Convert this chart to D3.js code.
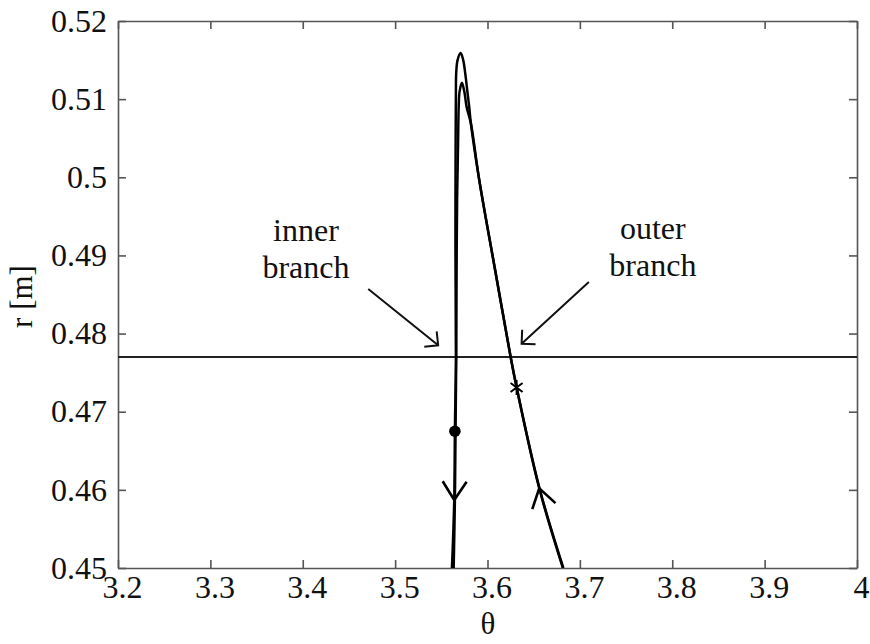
<!DOCTYPE html>
<html>
  <head>
    <meta charset="utf-8">
    <title></title>
  </head>
  <style>
    body{
      margin: 0;
      background-color: #fff
    }
    svg text{
      font-family: "Liberation Serif", "DejaVu Serif", serif;
      fill: #111
    }
    .axis path, .axis line{
      stroke: #555;
      stroke-width: 1.6
    }
  </style>
  <script src="https://d3js.org/d3.v7.min.js"></script>
  <body>
    <script>
    // tick values
    const thetaTicks = [3.2, 3.3, 3.4, 3.5, 3.6, 3.7, 3.8, 3.9, 4]
    const rTicks = [0.45, 0.46, 0.47, 0.48, 0.49, 0.5, 0.51, 0.52]

    // trajectory with the higher turning point [theta, r]
    const trajA = [
      [3.6816, 0.4500], [3.6560, 0.4602], [3.6315, 0.4731], [3.6250, 0.4770],
      [3.6083, 0.4881], [3.5910, 0.4997], [3.5820, 0.5069], [3.5802, 0.5090],
      [3.5780, 0.5112], [3.5759, 0.5133], [3.5737, 0.5150], [3.5709, 0.5159],
      [3.5676, 0.5150], [3.5661, 0.5133], [3.5658, 0.5112], [3.5655, 0.5048],
      [3.5653, 0.4907], [3.5658, 0.4770], [3.5647, 0.4675], [3.5640, 0.4587],
      [3.5615, 0.4500]
    ]
    // trajectory with the lower turning point
    const trajB = [
      [3.6821, 0.4500], [3.6563, 0.4602], [3.6316, 0.4731], [3.6251, 0.4770],
      [3.6083, 0.4881], [3.5910, 0.4997], [3.5820, 0.5069], [3.5774, 0.5090],
      [3.5750, 0.5109], [3.5723, 0.5121], [3.5697, 0.5109], [3.5688, 0.5090],
      [3.5682, 0.5048], [3.5671, 0.4971], [3.5665, 0.4869], [3.5662, 0.4770],
      [3.5654, 0.4675], [3.5647, 0.4587], [3.5634, 0.4500]
    ]

    const rLevel = 0.477            // horizontal line
    const dotPoint = [3.5647, 0.4675]
    const starPoint = [3.6315, 0.4731]
    const flowArrows = [[3.5640, 0.4587], [3.6560, 0.4602]]   // chevron tips on trajA

    const labels = [
      {lines: ["inner", "branch"], theta: 3.4035, r: 0.4918},
      {lines: ["outer", "branch"], theta: 3.779, r: 0.4921}
    ]
    const pointers = [
      {from: [3.4709, 0.4857], to: [3.5466, 0.4785]},
      {from: [3.7097, 0.4866], to: [3.6369, 0.4787]}
    ]

    var W = 870, H = 644
    var margin = {left: 118, right: 857, top: 21, bottom: 568}

    var svg = d3.select("body")
                .append("svg")
                .attr("width", W)
                .attr("height", H)

    var x = d3.scaleLinear().domain([3.2, 4]).range([margin.left, margin.right])
    var y = d3.scaleLinear().domain([0.45, 0.52]).range([margin.bottom, margin.top])

    var fmt = function(d){ return String(+d.toFixed(2)) }

    // bottom axis
    var xAxisG = svg.append("g")
       .attr("class", "axis")
       .attr("transform", "translate(0," + margin.bottom + ")")
       .call(d3.axisBottom(x).tickValues(thetaTicks).tickSizeInner(-8).tickSizeOuter(0)
                .tickPadding(7).tickFormat(fmt))
    // top axis (ticks only)
    svg.append("g")
       .attr("class", "axis")
       .attr("transform", "translate(0," + margin.top + ")")
       .call(d3.axisTop(x).tickValues(thetaTicks).tickSizeInner(-8).tickSizeOuter(0).tickFormat(""))
    // left axis
    svg.append("g")
       .attr("class", "axis")
       .attr("transform", "translate(" + margin.left + ",0)")
       .call(d3.axisLeft(y).tickValues(rTicks).tickSizeInner(-8).tickSizeOuter(0)
                .tickPadding(11).tickFormat(fmt))
    // right axis (ticks only)
    svg.append("g")
       .attr("class", "axis")
       .attr("transform", "translate(" + margin.right + ",0)")
       .call(d3.axisRight(y).tickValues(rTicks).tickSizeInner(-8).tickSizeOuter(0).tickFormat(""))

    svg.selectAll(".axis text")
       .attr("font-size", "32px")
       .attr("fill", "#111")
       .style("font-family", '"Liberation Serif", serif')
    xAxisG.selectAll("text").attr("dx", "4")

    // axis titles
    svg.append("text")
       .attr("x", (margin.left + margin.right) / 2 + 0.5)
       .attr("y", 634)
       .attr("text-anchor", "middle")
       .attr("font-size", "31px")
       .text("θ")

    svg.append("text")
       .attr("transform", "translate(32," + ((margin.top + margin.bottom) / 2 + 2) + ") rotate(-90)")
       .attr("text-anchor", "middle")
       .attr("font-size", "31px")
       .text("r [m]")

    // clip for curves
    svg.append("clipPath").attr("id", "plot")
       .append("rect").attr("x", margin.left).attr("y", margin.top)
       .attr("width", margin.right - margin.left).attr("height", margin.bottom - margin.top)

    var plot = svg.append("g").attr("clip-path", "url(#plot)")

    // horizontal level line
    plot.append("line")
        .attr("x1", margin.left).attr("x2", margin.right)
        .attr("y1", y(rLevel)).attr("y2", y(rLevel))
        .attr("stroke", "#222")
        .attr("stroke-width", 2.2)

    var line = d3.line()
                 .x(function(d){ return x(d[0]) })
                 .y(function(d){ return y(d[1]) })
                 .curve(d3.curveCatmullRom.alpha(0.5))

    var pathA = plot.append("path")
        .attr("d", line(trajA))
        .attr("fill", "none")
        .attr("stroke", "#000")
        .attr("stroke-width", 2.5)

    plot.append("path")
        .attr("d", line(trajB))
        .attr("fill", "none")
        .attr("stroke", "#000")
        .attr("stroke-width", 2.5)

    // direction chevrons, oriented along trajA
    var node = pathA.node()
    var total = node.getTotalLength()
    flowArrows.forEach(function(p){
      var px = x(p[0]), py = y(p[1])
      var best = 0, bestD = Infinity
      for (var l = 0; l <= total; l += 0.5) {
        var q = node.getPointAtLength(l)
        var dd = (q.x - px) * (q.x - px) + (q.y - py) * (q.y - py)
        if (dd < bestD) { bestD = dd; best = l }
      }
      var a = node.getPointAtLength(Math.max(0, best - 3))
      var b = node.getPointAtLength(Math.min(total, best + 3))
      var ang = Math.atan2(a.y - b.y, a.x - b.x)    // backward direction
      var len = 22, spread = 33 * Math.PI / 180
      var p1 = [px + len * Math.cos(ang - spread), py + len * Math.sin(ang - spread)]
      var p2 = [px + len * Math.cos(ang + spread), py + len * Math.sin(ang + spread)]
      plot.append("path")
          .attr("d", "M" + p1 + "L" + px + "," + py + "L" + p2)
          .attr("fill", "none")
          .attr("stroke", "#000")
          .attr("stroke-width", 2.6)
    })

    // dot marker
    plot.append("circle")
        .attr("cx", x(dotPoint[0]))
        .attr("cy", y(dotPoint[1]))
        .attr("r", 5.8)
        .attr("fill", "#000")

    // star marker
    var sx = x(starPoint[0]), sy = y(starPoint[1]), s = 7.5
    plot.append("path")
        .attr("d", "M" + sx + "," + (sy - s) + "V" + (sy + s) +
                   "M" + (sx - s * 0.8) + "," + (sy - s * 0.6) + "L" + (sx + s * 0.8) + "," + (sy + s * 0.6) +
                   "M" + (sx - s * 0.8) + "," + (sy + s * 0.6) + "L" + (sx + s * 0.8) + "," + (sy - s * 0.6))
        .attr("stroke", "#000")
        .attr("stroke-width", 2)

    // branch labels
    labels.forEach(function(d){
      var t = svg.append("text")
                 .attr("text-anchor", "middle")
                 .attr("font-size", "32px")
      d.lines.forEach(function(s, i){
        t.append("tspan")
         .attr("x", x(d.theta))
         .attr("y", y(d.r) + i * 37)
         .text(s)
      })
    })

    // pointer arrows
    pointers.forEach(function(d){
      var x0 = x(d.from[0]), y0 = y(d.from[1]), x1 = x(d.to[0]), y1 = y(d.to[1])
      var ang = Math.atan2(y0 - y1, x0 - x1)
      var len = 14, spread = 45 * Math.PI / 180
      svg.append("path")
         .attr("d", "M" + x0 + "," + y0 + "L" + x1 + "," + y1 +
                    "M" + (x1 + len * Math.cos(ang - spread)) + "," + (y1 + len * Math.sin(ang - spread)) +
                    "L" + x1 + "," + y1 +
                    "L" + (x1 + len * Math.cos(ang + spread)) + "," + (y1 + len * Math.sin(ang + spread)))
         .attr("fill", "none")
         .attr("stroke", "#111")
         .attr("stroke-width", 2)
    })
    </script>
  </body>
</html>
